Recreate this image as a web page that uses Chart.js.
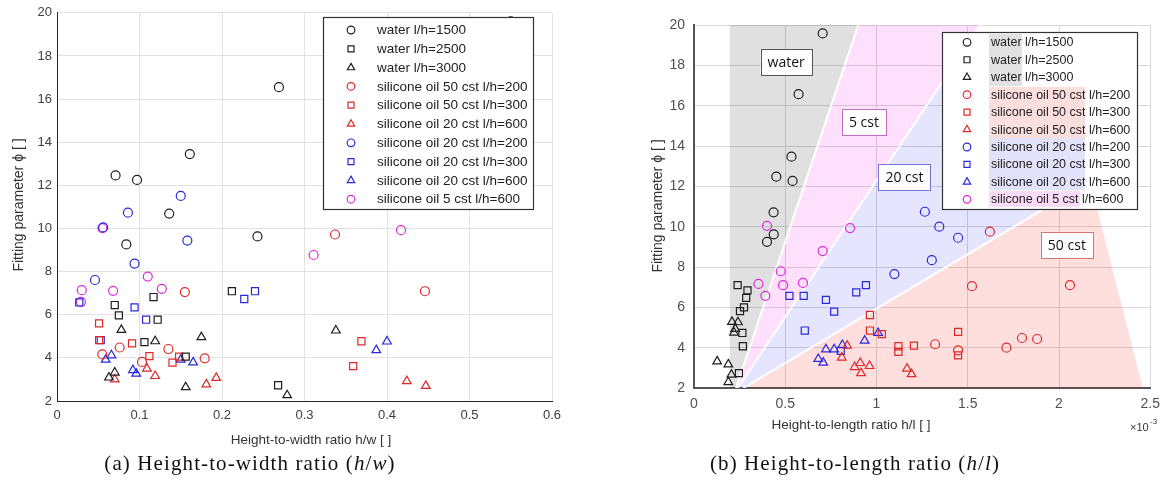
<!DOCTYPE html>
<html>
<head>
<meta charset="utf-8">
<script src="https://cdn.jsdelivr.net/npm/chart.js@4.4.0/dist/chart.umd.min.js"></script>
<style>
  body { margin:0; background:#fff; width:1168px; height:490px; position:relative; overflow:hidden; }
  .wrap { position:absolute; top:0; }
  #wrapA { left:0; width:590px; height:455px; }
  #wrapB { left:590px; width:578px; height:455px; }
  .cap { position:absolute; top:451px; font-family:"Liberation Serif",serif; font-size:21px; letter-spacing:1.1px; color:#111; white-space:nowrap; transform:translateX(-50%); }
</style>
</head>
<body>
<div class="wrap" id="wrapA"><canvas id="chartA" width="590" height="455"></canvas></div>
<div class="wrap" id="wrapB"><canvas id="chartB" width="578" height="455"></canvas></div>
<div class="cap" style="left:250px">(a) Height-to-width ratio (<i>h</i>/<i>w</i>)</div>
<div class="cap" style="left:855px">(b) Height-to-length ratio (<i>h</i>/<i>l</i>)</div>
<script>
// ---- data ----
const namesA = ['water l/h=1500','water l/h=2500','water l/h=3000',
  'silicone oil 50 cst l/h=200','silicone oil 50 cst l/h=300','silicone oil 20 cst l/h=600',
  'silicone oil 20 cst l/h=200','silicone oil 20 cst l/h=300','silicone oil 20 cst l/h=600',
  'silicone oil 5 cst l/h=600'];
const namesB = ['water l/h=1500','water l/h=2500','water l/h=3000',
  'silicone oil 50 cst l/h=200','silicone oil 50 cst l/h=300','silicone oil 50 cst l/h=600',
  'silicone oil 20 cst l/h=200','silicone oil 20 cst l/h=300','silicone oil 20 cst l/h=600',
  'silicone oil 5 cst l/h=600'];

// (a) height-to-width ratio h/w vs fitting parameter
const hwWater1500 = [[0.55,19.6],[0.269,16.55],[0.161,13.45],[0.071,12.46],[0.097,12.25],[0.136,10.69],[0.084,9.26],[0.243,9.63]];
const hwWater2500 = [[0.212,7.09],[0.117,6.82],[0.070,6.45],[0.075,5.97],[0.122,5.77],[0.106,4.73],[0.156,4.06],[0.268,2.73]];
const hwWater3000 = [[0.078,5.30],[0.175,4.96],[0.119,4.77],[0.070,3.32],[0.063,3.09],[0.156,2.64],[0.279,2.27],[0.338,5.27]];
const hwOil50_200 = [[0.337,9.72],[0.155,7.05],[0.446,7.09],[0.076,4.48],[0.135,4.41],[0.055,4.16],[0.179,3.98],[0.103,3.81]];
const hwOil50_300 = [[0.051,5.60],[0.051,4.82],[0.091,4.67],[0.112,4.08],[0.148,4.06],[0.140,3.78],[0.369,4.77],[0.359,3.62]];
const hwOil50_600 = [[0.109,3.50],[0.119,3.16],[0.070,3.00],[0.181,2.77],[0.193,3.07],[0.424,2.92],[0.447,2.70]];
const hwOil20_200 = [[0.150,11.51],[0.086,10.73],[0.056,10.05],[0.158,9.44],[0.094,8.37],[0.046,7.61]];
const hwOil20_300 = [[0.240,7.09],[0.227,6.73],[0.027,6.57],[0.094,6.34],[0.108,5.77],[0.053,4.82]];
const hwOil20_600 = [[0.066,4.12],[0.059,3.92],[0.150,3.92],[0.165,3.79],[0.092,3.43],[0.096,3.27],[0.400,4.76],[0.387,4.36]];
const hwOil5_600  = [[0.055,10.02],[0.417,9.92],[0.311,8.77],[0.110,7.77],[0.030,7.14],[0.068,7.11],[0.127,7.20],[0.029,6.60]];

// (b) height-to-length ratio h/l (x1e-3) vs fitting parameter
const hlWater1500 = [[0.705,19.58],[0.573,16.57],[0.534,13.47],[0.451,12.48],[0.540,12.27],[0.436,10.71],[0.437,9.62],[0.400,9.25]];
const hlWater2500 = [[0.239,7.10],[0.293,6.84],[0.286,6.47],[0.274,6.00],[0.252,5.81],[0.265,4.73],[0.268,4.07],[0.246,2.74]];
const hlWater3000 = [[0.208,5.28],[0.241,5.26],[0.226,4.93],[0.219,4.75],[0.127,3.32],[0.188,3.17],[0.205,2.66],[0.188,2.29]];
const hlOil50_200 = [[1.621,9.75],[1.523,7.05],[2.060,7.10],[1.321,4.17],[1.447,3.87],[1.712,4.00],[1.797,4.48],[1.880,4.43]];
const hlOil50_300 = [[0.964,5.62],[0.964,4.85],[1.029,4.67],[1.120,4.07],[1.120,3.79],[1.205,4.10],[1.447,4.78],[1.447,3.62]];
const hlOil50_600 = [[0.839,4.10],[0.810,3.51],[0.880,3.04],[0.911,3.24],[0.915,2.74],[0.962,3.09],[1.167,2.96],[1.192,2.69]];
const hlOil20_200 = [[1.265,10.74],[1.344,10.00],[1.447,9.45],[1.303,8.34],[1.098,7.65]];
const hlOil20_300 = [[0.523,6.57],[0.601,6.57],[0.723,6.37],[0.768,5.79],[0.889,6.74],[0.942,7.10],[0.607,4.85],[0.804,3.84]];
const hlOil20_600 = [[1.009,4.73],[0.935,4.35],[0.723,3.92],[0.768,3.92],[0.813,4.13],[0.681,3.44],[0.708,3.26]];
const hlOil5_600  = [[0.400,10.04],[0.855,9.93],[0.705,8.79],[0.475,7.79],[0.353,7.16],[0.488,7.10],[0.597,7.21],[0.391,6.57]];

// shaded regime regions in (b), data units
const regionWater = [[0.196,2],[0.196,20],[0.90,20],[0.23,2]];
const region5cst  = [[0.23,2],[0.90,20],[1.57,20],[0.24,2]];
const region20cst = [[0.24,2],[1.45,18.4],[2.17,12.25],[0.27,2]];
const region50cst = [[0.27,2],[2.17,12.25],[2.46,2]];
const boundaryLines = [
  [[0.23,2],[0.90,20]],
  [[0.24,2],[1.57,20]],
  [[0.27,2],[2.17,12.25]]
];
const regionLabels = [
  { text:'water',  x:0.505, y:18.17, border:'#555555' },
  { text:'5 cst',  x:0.931, y:15.20, border:'#c070c0' },
  { text:'20 cst', x:1.153, y:12.44, border:'#7373d6' },
  { text:'50 cst', x:2.043, y:9.10,  border:'#d67373' }
];

const ticksY = [2,4,6,8,10,12,14,16,18,20];
const ticksXA = [0,0.1,0.2,0.3,0.4,0.5,0.6];
const ticksXB = [0,0.5,1,1.5,2,2.5];

// ---- styles ----
const colors = ['#1e1e1e','#1e1e1e','#1e1e1e','#e02828','#e02828','#e02828','#2828dc','#2828dc','#2828dc','#dc28dc'];
const shapes = ['circle','rect','triangle','circle','rect','triangle','circle','rect','triangle','circle'];
const radius = { circle:4.5, rect:5, triangle:5 };

const toXY = arr => arr.map(p => ({ x:p[0], y:p[1] }));

function pointSets(all, names) {
  return all.map((d, i) => ({
    label: names[i], data: toXY(d), showLine:false,
    pointStyle: shapes[i], pointRadius: radius[shapes[i]],
    borderColor: colors[i], pointBorderColor: colors[i],
    backgroundColor:'rgba(0,0,0,0)', pointBackgroundColor:'rgba(0,0,0,0)',
    pointBorderWidth:1.2, order:0
  }));
}

const decor = {
  id:'decor',
  afterDraw(chart, args, o) {
    const ctx = chart.ctx;
    ctx.save();
    // region labels
    (o.labels || []).forEach(l => {
      const px = chart.scales.x.getPixelForValue(l.x), py = chart.scales.y.getPixelForValue(l.y);
      ctx.font = '14px "Open Sans"';
      const w = ctx.measureText(l.text).width + 14, h = 26;
      ctx.fillStyle = '#fff'; ctx.fillRect(px - w/2, py - h/2, w, h);
      ctx.strokeStyle = l.border; ctx.lineWidth = 1; ctx.strokeRect(Math.round(px - w/2)+0.5, Math.round(py - h/2)+0.5, Math.round(w), h);
      ctx.fillStyle = '#111'; ctx.textAlign = 'center'; ctx.textBaseline = 'middle';
      ctx.fillText(l.text, px, py + 1);
    });
    // legend
    const lg = o.legend;
    if (lg) {
      ctx.fillStyle = '#fff'; ctx.fillRect(lg.x0, lg.y0, lg.x1 - lg.x0, lg.y1 - lg.y0);
      (lg.marks || []).forEach(m => { ctx.fillStyle = m.c; ctx.fillRect(m.x, m.y, m.w, m.h); });
      ctx.strokeStyle = '#333'; ctx.lineWidth = 1.2;
      ctx.strokeRect(lg.x0 + 0.5, lg.y0 + 0.5, lg.x1 - lg.x0, lg.y1 - lg.y0);
      ctx.font = lg.font; ctx.textAlign = 'left'; ctx.textBaseline = 'middle';
      lg.names.forEach((n, i) => {
        const y = lg.rowY + i * lg.rowH;
        ctx.strokeStyle = colors[i]; ctx.fillStyle = 'rgba(0,0,0,0)';
        Chart.helpers.drawPoint(ctx, { pointStyle: shapes[i], radius: radius[shapes[i]] * 0.85, borderWidth: 1.2 }, lg.markX, y);
        ctx.fillStyle = '#222';
        ctx.fillText(n, lg.textX, y + 0.5);
      });
    }
    // axis titles
    ctx.fillStyle = '#333'; ctx.textAlign = 'center'; ctx.textBaseline = 'middle';
    (o.titles || []).forEach(t => {
      ctx.font = t.font;
      ctx.save(); ctx.translate(t.x, t.y); if (t.rot) ctx.rotate(t.rot);
      ctx.fillText(t.text, 0, 0); ctx.restore();
    });
    (o.extra || []).forEach(t => { ctx.font = t.font; ctx.textAlign = 'left'; ctx.fillText(t.text, t.x, t.y); });
    ctx.restore();
  }
};

function axes(xmin, xmax, xstep, yw, xh, style) {
  return {
    x: { type:'linear', min:xmin, max:xmax,
      afterBuildTicks: s => { s.ticks = (xmax > 1 ? ticksXB : ticksXA).map(v => ({ value:v })); },
      ticks: { padding: style.xpad, color: style.tick, font: { family: style.family, size: style.size },
        callback: v => String(Math.round(v * 10) / 10) },
      grid: { color: style.grid, drawTicks:false },
      border: { color: style.axis, width: style.axisW },
      afterFit: s => { s.height = xh; } },
    y: { type:'linear', min:2, max:20,
      afterBuildTicks: s => { s.ticks = ticksY.map(v => ({ value:v })); },
      ticks: { padding: style.ypad, color: style.tick, font: { family: style.family, size: style.size } },
      grid: { color: style.grid, drawTicks:false },
      border: { color: style.axis, width: style.axisW },
      afterFit: s => { s.width = yw; } }
  };
}

// ---- chart (a) ----
new Chart(document.getElementById('chartA'), {
  type:'scatter',
  data: { datasets: pointSets([hwWater1500,hwWater2500,hwWater3000,hwOil50_200,hwOil50_300,hwOil50_600,hwOil20_200,hwOil20_300,hwOil20_600,hwOil5_600], namesA) },
  options: {
    responsive:false, animation:false, events:[],
    layout: { padding: { left:0, top:10, right:38, bottom:0 } },
    scales: axes(0, 0.6, 0.1, 57, 54, { xpad:7, ypad:5, tick:'#404040', family:'"Liberation Sans"', size:13, grid:'#e2e2e2', axis:'#262626', axisW:1 }),
    plugins: {
      legend: { display:false }, tooltip: { enabled:false },
      decor: {
        legend: { x0:323, y0:17, x1:533, y1:209, rowY:30, rowH:18.8, markX:351, textX:377, font:'13.5px "Liberation Sans"', names:namesA },
        titles: [
          { text:'Fitting parameter ϕ [ ]', x:19, y:205, rot:-Math.PI/2, font:'14px "Liberation Sans"' },
          { text:'Height-to-width ratio h/w [ ]', x:311, y:440, font:'13.5px "Liberation Sans"' }
        ]
      }
    }
  },
  plugins:[decor]
});

// ---- chart (b) ----
const regionSets = [
  [regionWater, 'rgba(0,0,0,0.12)'],
  [region5cst,  'rgba(255,0,230,0.12)'],
  [region20cst, 'rgba(0,0,255,0.10)'],
  [region50cst, 'rgba(255,0,0,0.13)']
].map(([poly, c]) => ({
  data: toXY(poly.concat([poly[0]])), showLine:true, fill:'shape', tension:0,
  backgroundColor:c, borderWidth:0, borderColor:'rgba(0,0,0,0)', pointRadius:0, order:10
}));
const lineSets = boundaryLines.map(l => ({
  data: toXY(l), showLine:true, fill:false, borderColor:'#ffffff', borderWidth:2, pointRadius:0, order:5
}));

new Chart(document.getElementById('chartB'), {
  type:'scatter',
  data: { datasets: pointSets([hlWater1500,hlWater2500,hlWater3000,hlOil50_200,hlOil50_300,hlOil50_600,hlOil20_200,hlOil20_300,hlOil20_600,hlOil5_600], namesB).concat(lineSets, regionSets) },
  options: {
    responsive:false, animation:false, events:[],
    layout: { padding: { left:0, top:25, right:15, bottom:0 } },
    scales: axes(0, 2.5, 0.5, 104, 67, { xpad:8, ypad:9, tick:'#505050', family:'"Liberation Sans"', size:14, grid:'#d9d9d9', axis:'#555555', axisW:2 }),
    plugins: {
      legend: { display:false }, tooltip: { enabled:false },
      decor: {
        labels: regionLabels,
        legend: { x0:352, y0:32, x1:547, y1:209, rowY:42.3, rowH:17.45, markX:377, textX:401, font:'12.5px "Liberation Sans"', names:namesB,
          marks: [
            { x:399, y:34, w:33, h:52, c:'#e1e1e1' },
            { x:399, y:87, w:96, h:51, c:'#fbdede' },
            { x:399, y:138, w:96, h:52, c:'#e2e2fa' },
            { x:399, y:191, w:91, h:16, c:'#fadcf8' }
          ] },
        titles: [
          { text:'Fitting parameter ϕ [ ]', x:68, y:206, rot:-Math.PI/2, font:'14px "Liberation Sans"' },
          { text:'Height-to-length ratio h/l [ ]', x:261, y:425, font:'13.5px "Liberation Sans"' }
        ],
        extra: [
          { text:'×10', x:540, y:428, font:'11px "Liberation Sans"' },
          { text:'-3', x:560, y:422, font:'8px "Liberation Sans"' }
        ]
      }
    }
  },
  plugins:[decor]
});
</script>
</body>
</html>
